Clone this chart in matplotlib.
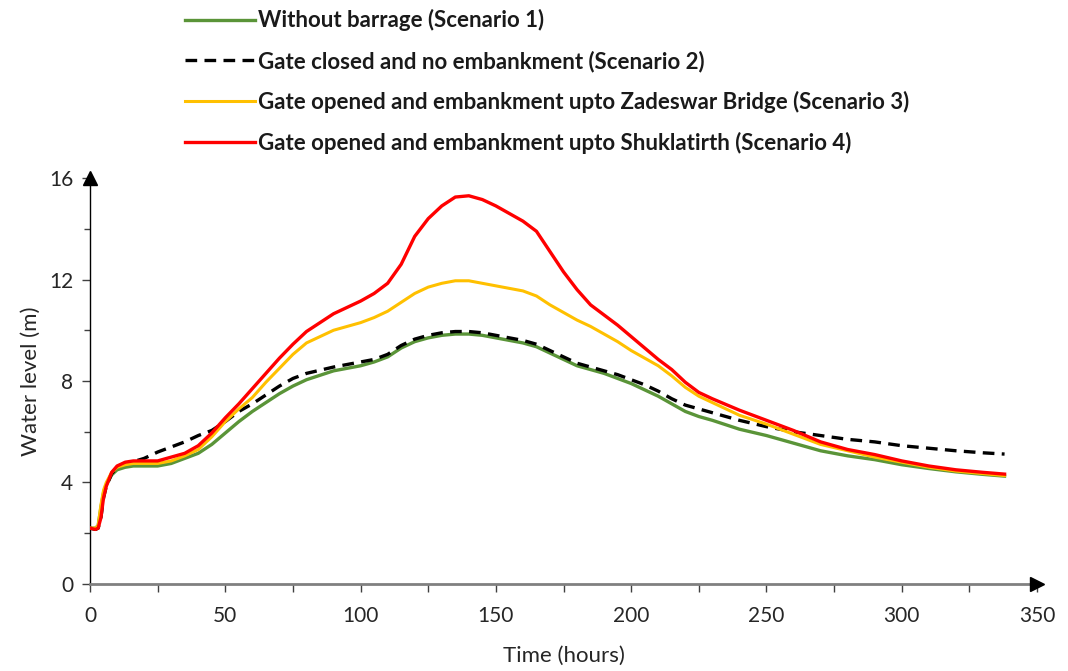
import numpy as np
import matplotlib
matplotlib.use("Agg")
import matplotlib.pyplot as plt
from matplotlib.ticker import MultipleLocator

plt.rcParams['font.family'] = ['Lato', 'DejaVu Sans']

# time (hours) shared by all series
hours = [0, 2, 3, 4, 5, 6, 8, 10, 13, 16, 20, 25, 30, 35, 40, 45, 50, 55, 60, 65,
         70, 75, 80, 90, 100, 105, 110, 115, 120, 125, 130, 135, 140, 145, 150, 155,
         160, 165, 170, 175, 180, 185, 190, 195, 200, 205, 210, 215, 220, 225, 230,
         240, 250, 260, 270, 280, 290, 300, 310, 320, 330, 338]

# water levels (m)
scen1 = [2.2, 2.2, 2.3, 3.0, 3.6, 3.9, 4.3, 4.5, 4.6, 4.65, 4.65, 4.65, 4.75, 4.95, 5.15, 5.5, 5.95, 6.4, 6.8, 7.15,
         7.5, 7.8, 8.05, 8.4, 8.6, 8.75, 8.95, 9.3, 9.55, 9.7, 9.8, 9.85, 9.85, 9.8, 9.7, 9.6,
         9.5, 9.35, 9.1, 8.85, 8.6, 8.45, 8.3, 8.1, 7.9, 7.65, 7.4, 7.1, 6.8, 6.6, 6.45,
         6.1, 5.85, 5.55, 5.25, 5.05, 4.9, 4.7, 4.55, 4.42, 4.32, 4.25]
scen2 = [2.2, 2.15, 2.2, 2.6, 3.4, 3.85, 4.35, 4.6, 4.75, 4.82, 4.95, 5.2, 5.4, 5.6, 5.85, 6.05, 6.4, 6.8, 7.1, 7.45,
         7.8, 8.1, 8.3, 8.55, 8.75, 8.85, 9.05, 9.4, 9.65, 9.8, 9.9, 9.95, 9.95, 9.9, 9.8, 9.7,
         9.6, 9.45, 9.2, 8.95, 8.7, 8.55, 8.4, 8.25, 8.05, 7.85, 7.6, 7.3, 7.05, 6.9, 6.75,
         6.45, 6.2, 6.0, 5.85, 5.7, 5.6, 5.45, 5.35, 5.25, 5.17, 5.12]
scen3 = [2.2, 2.2, 2.3, 3.1, 3.7, 4.0, 4.4, 4.6, 4.7, 4.75, 4.75, 4.75, 4.85, 5.05, 5.3, 5.8, 6.4, 6.9, 7.35, 7.95,
         8.5, 9.05, 9.5, 10.0, 10.3, 10.5, 10.75, 11.1, 11.45, 11.7, 11.85, 11.95, 11.95, 11.85, 11.75, 11.65,
         11.55, 11.35, 11.0, 10.7, 10.4, 10.15, 9.85, 9.55, 9.2, 8.9, 8.6, 8.2, 7.75, 7.4, 7.15,
         6.65, 6.3, 5.9, 5.5, 5.25, 5.0, 4.8, 4.6, 4.45, 4.35, 4.27]
scen4 = [2.2, 2.15, 2.2, 2.6, 3.4, 3.85, 4.4, 4.65, 4.8, 4.85, 4.85, 4.85, 5.0, 5.15, 5.45, 5.95, 6.55, 7.1, 7.7, 8.3,
         8.9, 9.45, 9.95, 10.65, 11.15, 11.45, 11.85, 12.6, 13.7, 14.4, 14.9, 15.25, 15.3, 15.15, 14.9, 14.6,
         14.3, 13.9, 13.1, 12.3, 11.6, 11.0, 10.6, 10.2, 9.75, 9.3, 8.85, 8.45, 7.95, 7.55, 7.3,
         6.85, 6.45, 6.05, 5.6, 5.3, 5.1, 4.85, 4.65, 4.5, 4.4, 4.33]

labels = ['Without barrage (Scenario 1)',
          'Gate closed and no embankment (Scenario 2)',
          'Gate opened and embankment upto Zadeswar Bridge (Scenario 3)',
          'Gate opened and embankment upto Shuklatirth (Scenario 4)']

fig = plt.figure(figsize=(10.68, 6.71), dpi=100)
ax = fig.add_axes([0.0843, 0.1297, 0.8867, 0.605])

h1, = ax.plot(hours, scen1, color='#5a9438', lw=2.4, label=labels[0], zorder=3)
h2, = ax.plot(hours, scen2, color='black', lw=2.4, ls=(0, (3.5, 2.2)), label=labels[1], zorder=4)
h3, = ax.plot(hours, scen3, color='#ffc000', lw=2.2, label=labels[2], zorder=5)
h4, = ax.plot(hours, scen4, color='#ff0000', lw=2.4, label=labels[3], zorder=6)

ax.set_xlim(0, 350)
ax.set_ylim(0, 16)
ax.xaxis.set_major_locator(MultipleLocator(50))
ax.xaxis.set_minor_locator(MultipleLocator(25))
ax.yaxis.set_major_locator(MultipleLocator(4))
ax.yaxis.set_minor_locator(MultipleLocator(2))

for s in ['top', 'right']:
    ax.spines[s].set_visible(False)
ax.spines['left'].set_color('black')
ax.spines['left'].set_linewidth(1.0)
ax.spines['bottom'].set_color('#808080')
ax.spines['bottom'].set_linewidth(2.0)

ax.tick_params(axis='both', which='major', length=6, width=1, color='#404040',
               labelsize=15, labelcolor='#262626', pad=6)
ax.tick_params(axis='both', which='minor', length=4, width=1, color='#404040')
ax.tick_params(axis='x', which='both', length=6)
ax.tick_params(axis='x', pad=10)

# axis arrows
ax.plot(1, 0, '>', color='black', ms=10, transform=ax.get_yaxis_transform(), clip_on=False, zorder=10)
ax.plot(0, 1, '^', color='black', ms=10, transform=ax.get_xaxis_transform(), clip_on=False, zorder=10)

ax.set_xlabel('Time (hours)', fontsize=16, color='#262626', labelpad=14)
ax.set_ylabel('Water level (m)', fontsize=16, color='#262626', labelpad=6)

leg = fig.legend(handles=[h1, h2, h3, h4], loc='upper left', bbox_to_anchor=(0.1545, 1.016),
                 frameon=False, handlelength=3.15, handletextpad=0.15, labelspacing=0.85,
                 prop={'weight': 'bold', 'size': 16})
for t in leg.get_texts():
    t.set_color('#1a1a1a')

fig.savefig('out.png', dpi=100)
